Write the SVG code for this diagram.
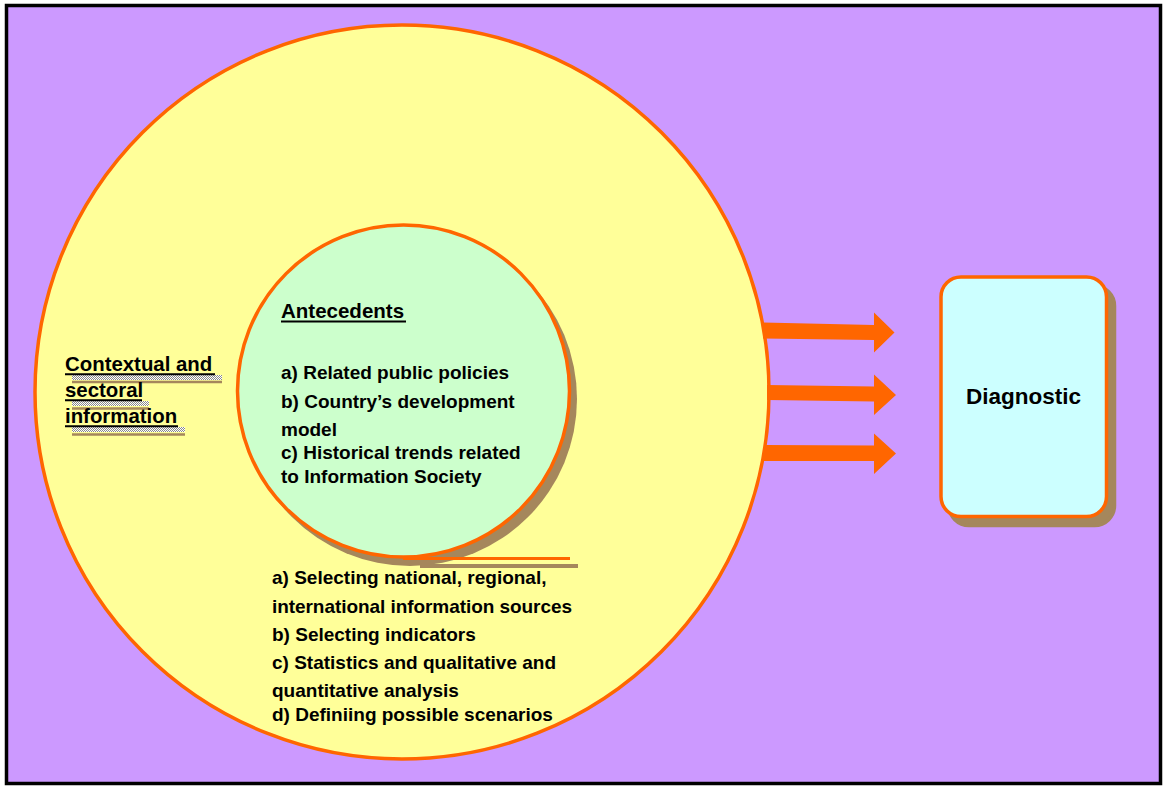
<svg xmlns="http://www.w3.org/2000/svg" width="1164" height="789" viewBox="0 0 1164 789">
<style>
.t{font-family:"Liberation Sans",Arial,sans-serif;font-weight:bold;fill:#000}
.b{font-size:19px}
.h{font-size:20.5px}
.c{font-size:20.4px}
.ghost{fill:url(#dots)}
.sh{fill:#A5875C}
.ul{stroke:#000;stroke-width:2}
.sul{stroke:#A5875C;stroke-width:2.5}
.arrow{fill:#FF6600}
</style>
<defs>
<pattern id="dots" width="2" height="2" patternUnits="userSpaceOnUse">
<rect width="2" height="2" fill="#fff"/>
<rect width="1" height="1" fill="#8a8a8a"/>
<rect x="1" y="1" width="1" height="1" fill="#8a8a8a"/>
</pattern>
</defs>
<rect x="0" y="0" width="1164" height="789" fill="#fff"/>
<rect id="frame" x="6.5" y="5.5" width="1154" height="778" fill="#CC99FF" stroke="#000" stroke-width="3.5"/>

<g id="outer-circle">
<circle cx="402" cy="392" r="367" fill="#FFFF99" stroke="#FF6600" stroke-width="3.5"/>
</g>

<g id="connectors">
<polygon class="arrow" points="763,322.5 874,325 874,312.5 894.5,332.5 874,352.5 874,340 763,338.5"/>
<polygon class="arrow" points="767,385 874,386.5 874,374.5 896,395 874,415 874,401.5 767,400"/>
<polygon class="arrow" points="764,445 874,445.5 874,433.5 896,453.5 874,474 874,461 764,461"/>
</g>

<g id="contextual">
<rect class="ghost" x="72" y="375" width="150" height="5"/>
<rect class="ghost" x="72" y="401" width="77" height="5"/>
<rect class="ghost" x="72" y="427" width="113" height="5"/>
<line class="sul" x1="72" y1="382" x2="222" y2="382"/>
<line class="sul" x1="72" y1="408.5" x2="149" y2="408.5"/>
<line class="sul" x1="72" y1="434.5" x2="185" y2="434.5"/>
<text class="t c" x="65" y="371">Contextual and</text>
<text class="t c" x="65" y="397">sectoral</text>
<text class="t c" x="65" y="423">information</text>
<line class="ul" x1="65" y1="374.3" x2="215" y2="374.3"/>
<line class="ul" x1="65" y1="400.3" x2="142" y2="400.3"/>
<line class="ul" x1="65" y1="426.3" x2="178" y2="426.3"/>
</g>

<g id="inner-circle">
<circle class="sh" cx="410" cy="399" r="167"/>
<line x1="420" y1="566" x2="578" y2="566" stroke="#A5875C" stroke-width="4"/>
<circle cx="403.5" cy="391" r="166" fill="#CCFFCC" stroke="#FF6600" stroke-width="3.5"/>
<line x1="403" y1="558.5" x2="570" y2="558.5" stroke="#FF6600" stroke-width="3"/>
<text class="t h" x="281" y="318">Antecedents</text>
<line x1="281" y1="321.5" x2="406" y2="321.5" stroke="#000" stroke-width="1.8"/>
<text class="t b" x="281" y="379">a) Related public policies</text>
<text class="t b" x="281" y="408">b) Country’s development</text>
<text class="t b" x="281" y="436">model</text>
<text class="t b" x="281" y="459">c) Historical trends related</text>
<text class="t b" x="281" y="483">to Information Society</text>
</g>

<g id="outer-text">
<text class="t b" x="272" y="584">a) Selecting national, regional,</text>
<text class="t b" x="272" y="613" textLength="300" lengthAdjust="spacing">international information sources</text>
<text class="t b" x="272" y="641">b) Selecting indicators</text>
<text class="t b" x="272" y="669">c) Statistics and qualitative and</text>
<text class="t b" x="272" y="697">quantitative analysis</text>
<text class="t b" x="272" y="721">d) Definiing possible scenarios</text>
</g>

<g id="diagnostic">
<rect x="949" y="286" width="165.5" height="239.5" rx="20" fill="#A5875C" stroke="#A5875C" stroke-width="3.5"/>
<rect x="941" y="277" width="165.5" height="239.5" rx="20" fill="#CCFFFF" stroke="#FF6600" stroke-width="3.5"/>
<text class="t" style="font-size:22.5px" x="966" y="404">Diagnostic</text>
</g>
</svg>
